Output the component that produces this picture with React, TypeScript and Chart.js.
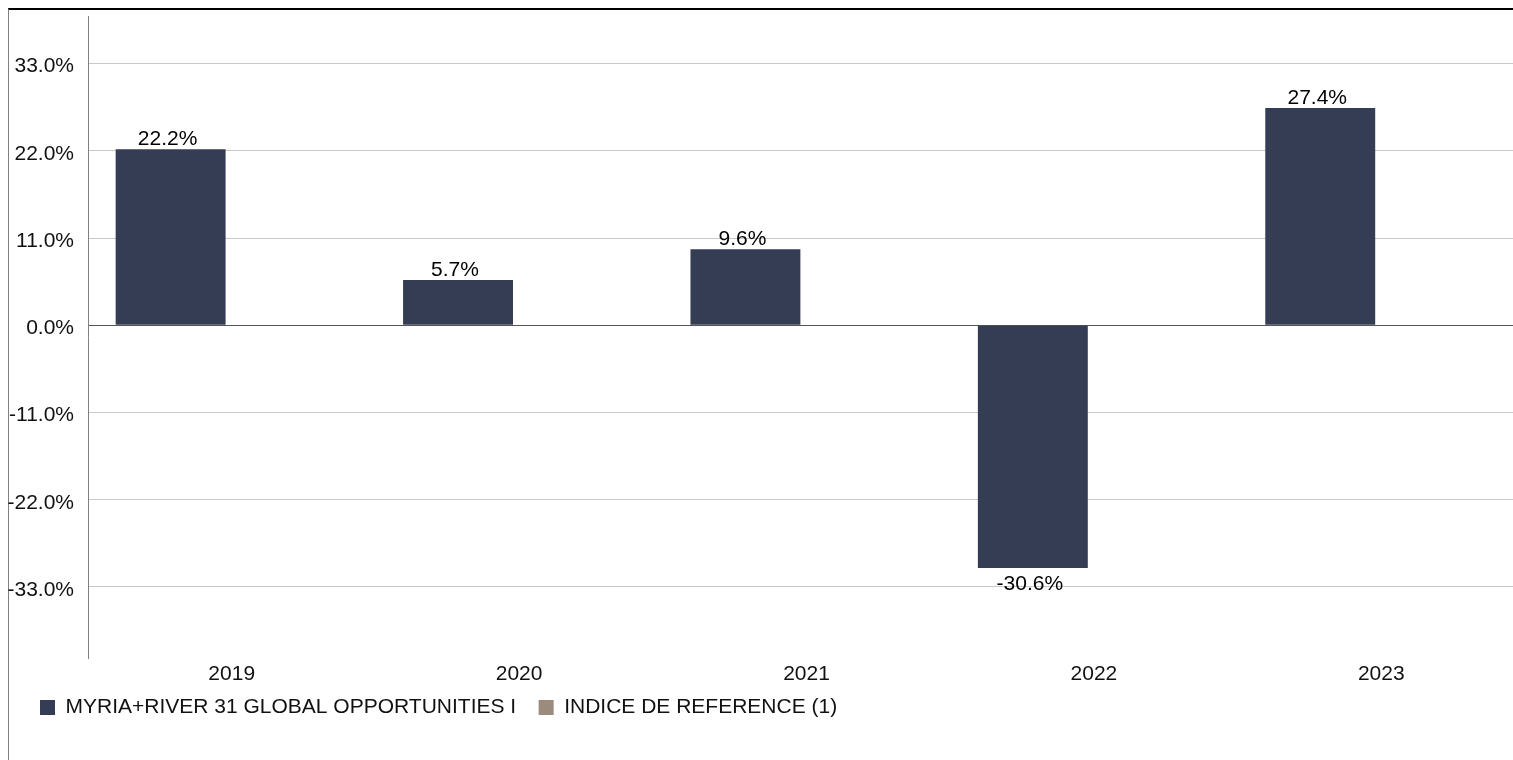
import { useEffect, useRef } from "react";
import { Chart, registerables } from "chart.js";

Chart.register(...registerables);

const categories = ["2019", "2020", "2021", "2022", "2023"];
const fundValues = [22.2, 5.7, 9.6, -30.6, 27.4];
const indexValues: (number | null)[] = [null, null, null, null, null];
const seriesNames = ["MYRIA+RIVER 31 GLOBAL OPPORTUNITIES I", "INDICE DE REFERENCE (1)"];
const seriesColors = ["#343d54", "#9b8b7c"];
const yTickValues = [-33, -22, -11, 0, 11, 22, 33];
const yMin = -42;
const yMax = 39;

const FONT = "'Liberation Sans', Arial, Helvetica, sans-serif";

const valueLabels = {
  id: "valueLabels",
  afterDatasetsDraw(chart: any) {
    const ctx = chart.ctx;
    const meta = chart.getDatasetMeta(0);
    const data = chart.data.datasets[0].data as number[];
    ctx.save();
    ctx.font = `21px ${FONT}`;
    ctx.fillStyle = "#000";
    ctx.textAlign = "center";
    ctx.textBaseline = "alphabetic";
    meta.data.forEach((bar: any, i: number) => {
      const v = data[i];
      if (v == null) return;
      const txt = v.toFixed(1) + "%";
      const y = v >= 0 ? bar.y - 4 : bar.y + 22;
      ctx.fillText(txt, bar.x - 3, y);
    });
    ctx.restore();
  },
};

// nudges the legend block so it sits just under the category labels
const legendPlacement = {
  id: "legendPlacement",
  afterLayout(chart: any) {
    const lg = chart.legend;
    if (!lg) return;
    lg.left += 9.5;
    lg.top -= 15;
    lg.bottom -= 15;
  },
};

export default function App() {
  const ref = useRef<HTMLCanvasElement | null>(null);

  useEffect(() => {
    document.body.style.overflow = "hidden";
    if (!ref.current) return;
    Chart.defaults.font.family = FONT;
    Chart.defaults.font.size = 21;
    Chart.defaults.color = "#000";
    const chart = new Chart(ref.current, {
      type: "bar",
      data: {
        labels: categories,
        datasets: [
          {
            label: seriesNames[0],
            data: fundValues,
            backgroundColor: seriesColors[0],
            borderWidth: 0,
            categoryPercentage: 0.85,
            barPercentage: 0.9,
          },
          {
            label: seriesNames[1],
            data: indexValues,
            backgroundColor: seriesColors[1],
            borderWidth: 0,
            categoryPercentage: 0.85,
            barPercentage: 0.9,
          },
        ],
      },
      options: {
        animation: false,
        responsive: true,
        maintainAspectRatio: false,
        layout: { padding: { left: 0, top: 6, right: 0, bottom: 0 } },
        plugins: {
          tooltip: { enabled: false },
          legend: {
            position: "bottom",
            align: "start",
            labels: {
              boxWidth: 15,
              boxHeight: 15,
              padding: 22.5,
              color: "#111",
              font: { size: 21, family: FONT },
            },
          },
        },
        scales: {
          x: {
            grid: { display: false, drawTicks: false },
            border: { display: false },
            ticks: { color: "#111", font: { size: 21, family: FONT }, padding: 3, maxRotation: 0 },
          },
          y: {
            min: yMin,
            max: yMax,
            afterBuildTicks: (s: any) => {
              s.ticks = yTickValues.map((v) => ({ value: v }));
            },
            afterFit: (s: any) => {
              s.width = 80;
              s.paddingTop = 0;
              s.paddingBottom = 0;
            },
            grid: {
              drawTicks: false,
              color: (c: any) => (c.tick && c.tick.value === 0 ? "#555555" : "#c8c8c8"),
              lineWidth: 1,
            },
            border: { display: true, color: "#808080", width: 1 },
            ticks: {
              color: "#111",
              padding: 14,
              labelOffset: 3,
              font: { size: 21, family: FONT },
              callback: (v: any) => Number(v).toFixed(1) + "%",
            },
          },
        },
      },
      plugins: [valueLabels, legendPlacement],
    });
    return () => chart.destroy();
  }, []);

  return (
    <div
      style={{
        position: "fixed",
        left: 8,
        top: 8,
        width: 1600,
        height: 760,
        borderTop: "2px solid #000",
        borderLeft: "1px solid #808080",
        boxSizing: "border-box",
      }}
    >
      <div style={{ position: "absolute", left: -1, top: 0, width: 1517, height: 733 }}>
        <canvas ref={ref} />
      </div>
    </div>
  );
}
